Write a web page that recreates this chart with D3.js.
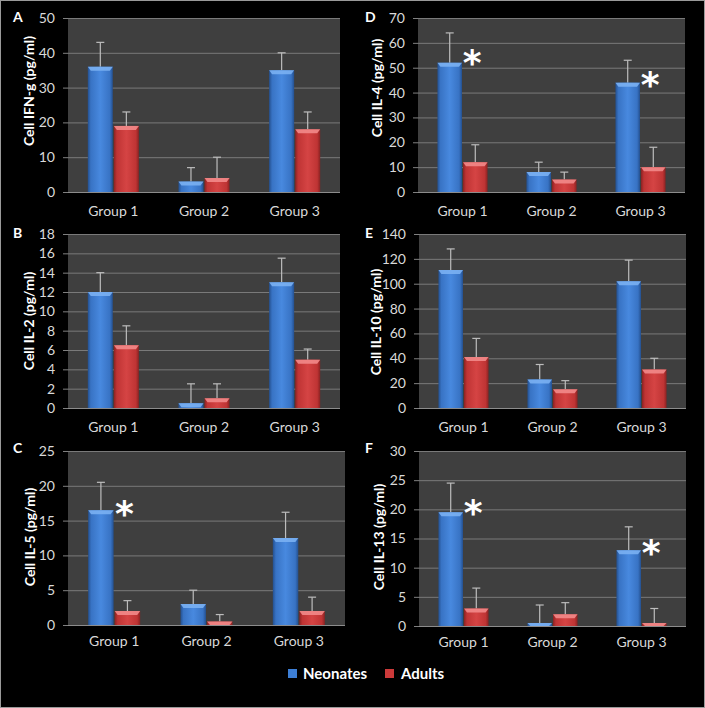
<!DOCTYPE html>
<html><head><meta charset="utf-8">
<script src="https://cdn.jsdelivr.net/npm/d3@7"></script>
<style>html,body{margin:0;padding:0;background:#000;}svg{display:block;}</style>
</head><body>
<svg id="chart" width="705" height="708"></svg>
<script>
const groups = ["Group 1", "Group 2", "Group 3"];
const seriesNames = ["Neonates", "Adults"];

// Panel A: IFN-g
const ifnNeo = [36, 3, 35], ifnNeoErr = [7, 4, 5];
const ifnAdu = [19, 4, 18], ifnAduErr = [4, 6, 5];
const ifnTicks = [0, 10, 20, 30, 40, 50];
const ifnSig = [];
// Panel B: IL-2
const il2Neo = [12, 0.5, 13], il2NeoErr = [2, 2, 2.5];
const il2Adu = [6.5, 1, 5], il2AduErr = [2, 1.5, 1.1];
const il2Ticks = [0, 2, 4, 6, 8, 10, 12, 14, 16, 18];
const il2Sig = [];
// Panel C: IL-5
const il5Neo = [16.5, 3, 12.5], il5NeoErr = [4, 2, 3.7];
const il5Adu = [2, 0.5, 2], il5AduErr = [1.5, 1, 2];
const il5Ticks = [0, 5, 10, 15, 20, 25];
const il5Sig = [{group: "Group 1", y: 17.5}];
// Panel D: IL-4
const il4Neo = [52, 8, 44], il4NeoErr = [12, 4, 9];
const il4Adu = [12, 5, 10], il4AduErr = [7, 3, 8];
const il4Ticks = [0, 10, 20, 30, 40, 50, 60, 70];
const il4Sig = [{group: "Group 1", y: 56}, {group: "Group 3", y: 47}];
// Panel E: IL-10
const il10Neo = [111, 23, 102], il10NeoErr = [17, 12, 17];
const il10Adu = [41, 15, 31], il10AduErr = [15, 7, 9];
const il10Ticks = [0, 20, 40, 60, 80, 100, 120, 140];
const il10Sig = [];
// Panel F: IL-13
const il13Neo = [19.5, 0.5, 13], il13NeoErr = [5, 3.1, 4];
const il13Adu = [3, 2, 0.5], il13AduErr = [3.5, 2, 2.5];
const il13Ticks = [0, 5, 10, 15, 20, 25, 30];
const il13Sig = [{group: "Group 1", y: 21.1}, {group: "Group 3", y: 14.2}];

const panels = [
  {letter: "A", title: "Cell IFN-g (pg/ml)", neo: ifnNeo, neoErr: ifnNeoErr, adu: ifnAdu, aduErr: ifnAduErr, ticks: ifnTicks, sig: ifnSig,
   box: [68, 340, 18, 192], lx: 13, ly: 22, tx: 29, ty: 91, gl: 19},
  {letter: "D", title: "Cell IL-4 (pg/ml)", neo: il4Neo, neoErr: il4NeoErr, adu: il4Adu, aduErr: il4AduErr, ticks: il4Ticks, sig: il4Sig,
   box: [418, 685, 18, 192], lx: 365, ly: 22, tx: 377, ty: 88, gl: 19},
  {letter: "B", title: "Cell IL-2 (pg/ml)", neo: il2Neo, neoErr: il2NeoErr, adu: il2Adu, aduErr: il2AduErr, ticks: il2Ticks, sig: il2Sig,
   box: [68, 340, 234, 408], lx: 13, ly: 238, tx: 29, ty: 321, gl: 19},
  {letter: "E", title: "Cell IL-10 (pg/ml)", neo: il10Neo, neoErr: il10NeoErr, adu: il10Adu, aduErr: il10AduErr, ticks: il10Ticks, sig: il10Sig,
   box: [419, 686, 234, 408], lx: 365, ly: 238, tx: 376, ty: 322, gl: 19},
  {letter: "C", title: "Cell IL-5 (pg/ml)", neo: il5Neo, neoErr: il5NeoErr, adu: il5Adu, aduErr: il5AduErr, ticks: il5Ticks, sig: il5Sig,
   box: [68, 345, 451, 625], lx: 13, ly: 453, tx: 30, ty: 537, gl: 16},
  {letter: "F", title: "Cell IL-13 (pg/ml)", neo: il13Neo, neoErr: il13NeoErr, adu: il13Adu, aduErr: il13AduErr, ticks: il13Ticks, sig: il13Sig,
   box: [419, 686, 451, 626], lx: 365, ly: 453, tx: 379, ty: 537, gl: 16}
];

const svg = d3.select("#chart");
svg.append("rect").attr("x", 0.5).attr("y", 0.5).attr("width", 704).attr("height", 707)
  .attr("fill", "#000").attr("stroke", "#9a9a9a").attr("stroke-width", 1);

const defs = svg.append("defs");
function hgrad(id, stops) {
  const g = defs.append("linearGradient").attr("id", id).attr("x1", "0").attr("x2", "1").attr("y1", "0").attr("y2", "0");
  stops.forEach(s => g.append("stop").attr("offset", s[0]).attr("stop-color", s[1]));
}
hgrad("gBlue", [[0, "#24508f"], [0.12, "#3873c4"], [0.5, "#4889df"], [0.88, "#3873c4"], [1, "#24508f"]]);
hgrad("gRed", [[0, "#8a2222"], [0.12, "#bf3434"], [0.5, "#d54444"], [0.88, "#bf3434"], [1, "#8a2222"]]);
const fills = {Neonates: "url(#gBlue)", Adults: "url(#gRed)"};
const tops = {Neonates: "#7ab0f2", Adults: "#f28a8a"};
const legendColors = {Neonates: "#3d7fd6", Adults: "#cc3a3a"};

const font = "Lato, 'Open Sans', sans-serif";

panels.forEach(p => {
  const [x0, x1, y0, y1] = p.box;
  const yMax = p.ticks[p.ticks.length - 1];
  const y = d3.scaleLinear().domain([0, yMax]).range([y1, y0]);
  const x = d3.scaleBand().domain(groups).range([x0, x1]).paddingInner(0).paddingOuter(0);
  const xs = d3.scaleBand().domain(seriesNames).range([0, x.bandwidth()]).paddingInner(0.04).paddingOuter(0.76);
  const g = svg.append("g");

  g.append("rect").attr("x", x0).attr("y", y0).attr("width", x1 - x0).attr("height", y1 - y0).attr("fill", "#3f3f3f");

  const axis = d3.axisLeft(y).tickValues(p.ticks).tickSize(5).tickPadding(8).tickFormat(d3.format("d"));
  const ag = g.append("g").attr("transform", `translate(${x0},0)`).call(axis);
  ag.select(".domain").remove();
  ag.selectAll(".tick line").attr("stroke", "#808080");
  ag.selectAll(".tick text").attr("fill", "#d9d9d9").attr("font-family", font).attr("font-size", 14);
  g.selectAll("line.grid").data(p.ticks.filter(t => t > 0)).join("line").attr("class", "grid")
    .attr("x1", x0).attr("x2", x1).attr("y1", d => y(d) + 0.5).attr("y2", d => y(d) + 0.5)
    .attr("stroke", "#7a7a7a").attr("stroke-width", 1);
  g.append("line").attr("x1", x0).attr("x2", x1).attr("y1", y1 + 0.5).attr("y2", y1 + 0.5).attr("stroke", "#8c8c8c");

  const rows = [];
  groups.forEach((grp, i) => {
    rows.push({grp, s: "Neonates", v: p.neo[i], e: p.neoErr[i]});
    rows.push({grp, s: "Adults", v: p.adu[i], e: p.aduErr[i]});
  });
  const bw = xs.bandwidth();
  rows.forEach(r => {
    const bx = x(r.grp) + xs(r.s);
    const by = y(r.v);
    const bh = y1 - by;
    const cx = bx + bw / 2;
    const ey = y(r.v + r.e);
    g.append("line").attr("x1", cx).attr("x2", cx).attr("y1", by).attr("y2", ey).attr("stroke", "#bdbdbd").attr("stroke-width", 1.2);
    g.append("line").attr("x1", cx - 4).attr("x2", cx + 4).attr("y1", ey).attr("y2", ey).attr("stroke", "#bdbdbd").attr("stroke-width", 1.2);
    g.append("rect").attr("x", bx).attr("y", by).attr("width", bw).attr("height", bh).attr("fill", fills[r.s]);
    const th = Math.min(4, bh);
    const inset = Math.min(3, bw / 4);
    g.append("path").attr("d", `M${bx},${by}L${bx + bw},${by}L${bx + bw - inset},${by + th}L${bx + inset},${by + th}Z`)
      .attr("fill", tops[r.s]).attr("opacity", 0.9);
  });

  p.sig.forEach(s => {
    const ax = x(s.group) + xs("Adults") + bw / 2 - 3;
    g.append("text").attr("x", ax).attr("y", y(s.y)).attr("dy", "0.62em").attr("text-anchor", "middle")
      .attr("fill", "#fff").attr("font-family", "'DejaVu Sans', sans-serif").attr("font-weight", "bold")
      .attr("font-size", 36).text("*");
  });

  g.selectAll("text.grp").data(groups).join("text").attr("class", "grp")
    .attr("x", d => x(d) + x.bandwidth() / 2).attr("y", y1 + p.gl).attr("dy", "0.35em")
    .attr("text-anchor", "middle").attr("fill", "#d9d9d9").attr("font-family", font).attr("font-size", 14).text(d => d);

  g.append("text").attr("transform", `translate(${p.tx},${p.ty}) rotate(-90)`).attr("text-anchor", "middle")
    .attr("dy", "0.35em").attr("fill", "#fff").attr("font-family", font).attr("font-weight", "bold").attr("font-size", 14).text(p.title);

  g.append("text").attr("x", p.lx).attr("y", p.ly).attr("fill", "#fff").attr("font-family", font)
    .attr("font-weight", "bold").attr("font-size", 14).text(p.letter);
});

const legendItems = [{name: "Neonates", bx: 288, tx: 303}, {name: "Adults", bx: 385, tx: 401}];
legendItems.forEach(it => {
  svg.append("rect").attr("x", it.bx).attr("y", 669).attr("width", 9).attr("height", 9).attr("fill", legendColors[it.name]);
  svg.append("text").attr("x", it.tx).attr("y", 679).attr("fill", "#fff").attr("font-family", font)
    .attr("font-weight", "bold").attr("font-size", 15).text(it.name);
});
</script>
</body></html>
